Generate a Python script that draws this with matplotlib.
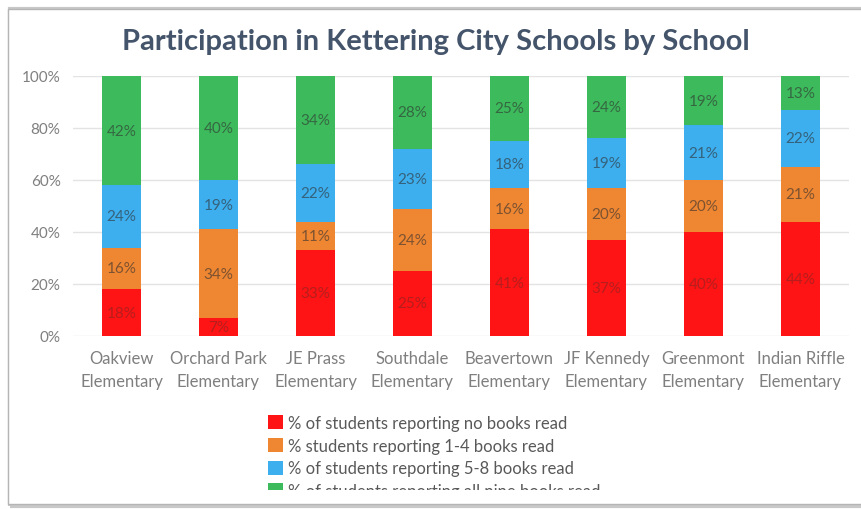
import matplotlib
matplotlib.use("Agg")
import matplotlib.pyplot as plt
from matplotlib.patches import Patch, Rectangle
import numpy as np

schools = ["Oakview\nElementary", "Orchard Park\nElementary", "JE Prass\nElementary",
           "Southdale\nElementary", "Beavertown\nElementary", "JF Kennedy\nElementary",
           "Greenmont\nElementary", "Indian Riffle\nElementary"]
no_books = [18, 7, 33, 25, 41, 37, 40, 44]
books_1_4 = [16, 34, 11, 24, 16, 20, 20, 21]
books_5_8 = [24, 19, 22, 23, 18, 19, 21, 22]
all_nine = [42, 40, 34, 28, 25, 24, 19, 13]
series_names = ["% of students reporting no books read",
                "% students reporting 1-4 books read",
                "% of students reporting 5-8 books read",
                "% of students reporting all nine books read"]
yticks = [0, 20, 40, 60, 80, 100]
ytick_labels = ["0%", "20%", "40%", "60%", "80%", "100%"]

colors = ["#FE1414", "#EF8632", "#3DAEEE", "#3DBB5C"]
font = "Lato"

W, H = 862, 510
fig = plt.figure(figsize=(W / 100, H / 100), dpi=100)
fig.patch.set_facecolor("white")

# frame
fig.add_artist(Rectangle((10 / W, 1 - 507 / H), 860 / W, 497 / H, transform=fig.transFigure,
                         facecolor="none", edgecolor="#C8C8C8", lw=3.0, zorder=0))
fig.add_artist(Rectangle((8 / W, 1 - 505 / H), 860 / W, 495 / H, transform=fig.transFigure,
                         facecolor="white", edgecolor="#B5B5B5", lw=1.0, zorder=0))

ax = fig.add_axes([73 / W, 1 - 337 / H, (849 - 73) / W, (337 - 77) / H])
x = np.arange(len(schools))
data = [no_books, books_1_4, books_5_8, all_nine]
bottom = np.zeros(len(schools))
for k, (vals, c) in enumerate(zip(data, colors)):
    vals = np.array(vals, dtype=float)
    ax.bar(x, vals, 0.4, bottom=bottom, color=c, zorder=3)
    for xi, b, v in zip(x, bottom, vals):
        ax.text(xi, b + v / 2, f"{int(v)}%", ha="center", va="center",
                fontsize=11, color="#303030", alpha=0.35 if k == 0 else 0.6,
                family=font, zorder=4)
    bottom += vals

ax.set_xlim(-0.5, len(schools) - 0.5)
ax.set_ylim(0, 100)
ax.set_yticks(yticks)
ax.set_yticklabels(ytick_labels, family=font, fontsize=11, color="#7F7F7F")
ax.set_xticks(x)
ax.set_xticklabels(schools, family=font, fontsize=12, color="#7F7F7F", linespacing=1.55)
ax.tick_params(axis="both", length=0)
ax.tick_params(axis="y", pad=9)
ax.tick_params(axis="x", pad=10)
ax.grid(axis="y", color="#E3E3E3", lw=1, zorder=0)
for s in ax.spines.values():
    s.set_visible(False)

fig.text(436 / W, 1 - 42 / H, "Participation in Kettering City Schools by School",
         ha="center", va="center", fontsize=21, fontweight="bold", color="#44546A", family=font)

handles = [Patch(facecolor=c, edgecolor="none") for c in colors]
leg = fig.legend(handles, series_names, loc="upper left",
                 bbox_to_anchor=(268 / W, 1 - 416 / H), frameon=False,
                 prop={"family": font, "size": 12}, handlelength=0.9, handleheight=0.9,
                 handletextpad=0.3, labelspacing=0.4, borderaxespad=0, borderpad=0)
for t in leg.get_texts():
    t.set_color("#595959")

# cover to clip the last legend row like the reference
fig.add_artist(Rectangle((250 / W, 1 - 503 / H), 420 / W, 12 / H, transform=fig.transFigure,
                         facecolor="white", edgecolor="none", zorder=20))

fig.savefig("out.png", dpi=100)
